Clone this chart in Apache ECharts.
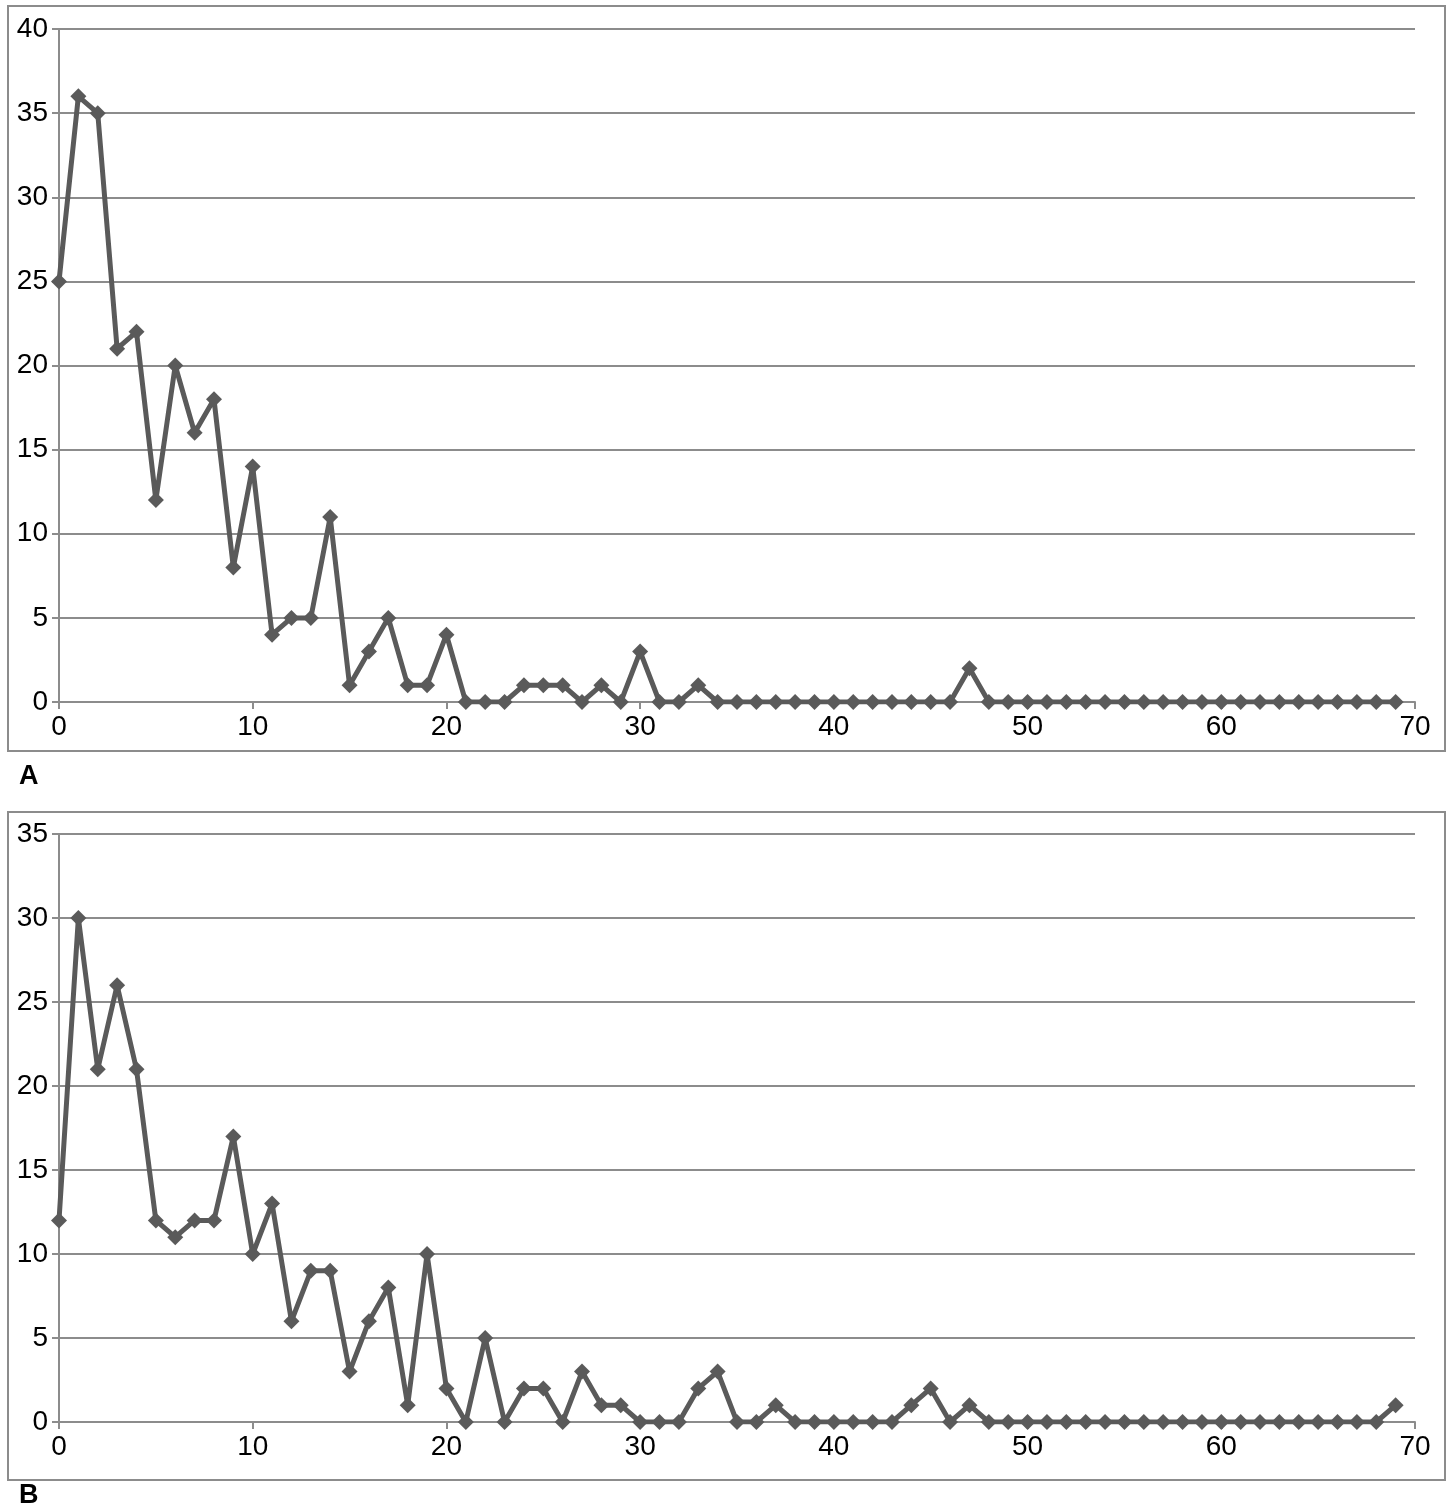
<!DOCTYPE html>
<html>
<head>
<meta charset="utf-8">
<script src="https://cdn.jsdelivr.net/npm/echarts@6/dist/echarts.min.js"></script>
<style>
  html, body { margin: 0; padding: 0; background: #fff; }
  #plot { width: 1453px; height: 1505px; }
</style>
</head>
<body>
<div id="plot"></div>
<script>
var seriesA = [25, 36, 35, 21, 22, 12, 20, 16, 18, 8, 14, 4, 5, 5, 11, 1, 3, 5, 1, 1,
  4, 0, 0, 0, 1, 1, 1, 0, 1, 0, 3, 0, 0, 1, 0, 0, 0, 0, 0, 0,
  0, 0, 0, 0, 0, 0, 0, 2, 0, 0, 0, 0, 0, 0, 0, 0, 0, 0, 0, 0,
  0, 0, 0, 0, 0, 0, 0, 0, 0, 0];
var seriesB = [12, 30, 21, 26, 21, 12, 11, 12, 12, 17, 10, 13, 6, 9, 9, 3, 6, 8, 1, 10,
  2, 0, 5, 0, 2, 2, 0, 3, 1, 1, 0, 0, 0, 2, 3, 0, 0, 1, 0, 0,
  0, 0, 0, 0, 1, 2, 0, 1, 0, 0, 0, 0, 0, 0, 0, 0, 0, 0, 0, 0,
  0, 0, 0, 0, 0, 0, 0, 0, 0, 1];
var panelLabels = ['A', 'B'];

function pairs(arr) {
  return arr.map(function (v, i) { return [i, v]; });
}

var axisGray = '#8c8c8c';
var lineGray = '#5a5a5a';
var labelFont = { color: '#000', fontSize: 28, fontFamily: 'Liberation Sans' };

function xAxis(idx) {
  return {
    type: 'value', gridIndex: idx, min: 0, max: 70, interval: 10,
    axisLine: { onZero: false, lineStyle: { color: axisGray, width: 2 } },
    axisTick: { show: true, length: 7, lineStyle: { color: axisGray, width: 2 } },
    axisLabel: Object.assign({ margin: 11 }, labelFont),
    splitLine: { show: false }
  };
}
function yAxis(idx, max) {
  return {
    type: 'value', gridIndex: idx, min: 0, max: max, interval: 5,
    axisLine: { show: true, lineStyle: { color: axisGray, width: 2 } },
    axisTick: { show: true, length: 7, lineStyle: { color: axisGray, width: 2 } },
    axisLabel: Object.assign({ margin: 11 }, labelFont),
    splitLine: { show: true, lineStyle: { color: axisGray, width: 2 } }
  };
}
function line(idx, arr) {
  return {
    type: 'line', xAxisIndex: idx, yAxisIndex: idx, data: pairs(arr),
    symbol: 'diamond', symbolSize: 16, showAllSymbol: true,
    lineStyle: { color: lineGray, width: 5 },
    itemStyle: { color: lineGray },
    animation: false
  };
}

var myPlot = echarts.init(document.getElementById('plot'));
var option = {
  backgroundColor: '#fff',
  animation: false,
  grid: [
    { left: 59, top: 29, width: 1356, height: 673 },
    { left: 59, top: 834, width: 1356, height: 588 }
  ],
  xAxis: [xAxis(0), xAxis(1)],
  yAxis: [yAxis(0, 40), yAxis(1, 35)],
  series: [line(0, seriesA), line(1, seriesB)],
  graphic: [
    { type: 'rect', shape: { x: 8, y: 6, width: 1437, height: 745 },
      style: { fill: 'none', stroke: axisGray, lineWidth: 2 }, z: -1 },
    { type: 'rect', shape: { x: 8, y: 812, width: 1437, height: 668 },
      style: { fill: 'none', stroke: axisGray, lineWidth: 2 }, z: -1 },
    { type: 'text', left: 19, top: 763,
      style: { text: panelLabels[0], fontSize: 27, fontWeight: 'bold', fontFamily: 'Liberation Sans', fill: '#000' } },
    { type: 'text', left: 19, top: 1482,
      style: { text: panelLabels[1], fontSize: 27, fontWeight: 'bold', fontFamily: 'Liberation Sans', fill: '#000' } }
  ]
};
option && myPlot.setOption(option);
</script>
</body>
</html>
